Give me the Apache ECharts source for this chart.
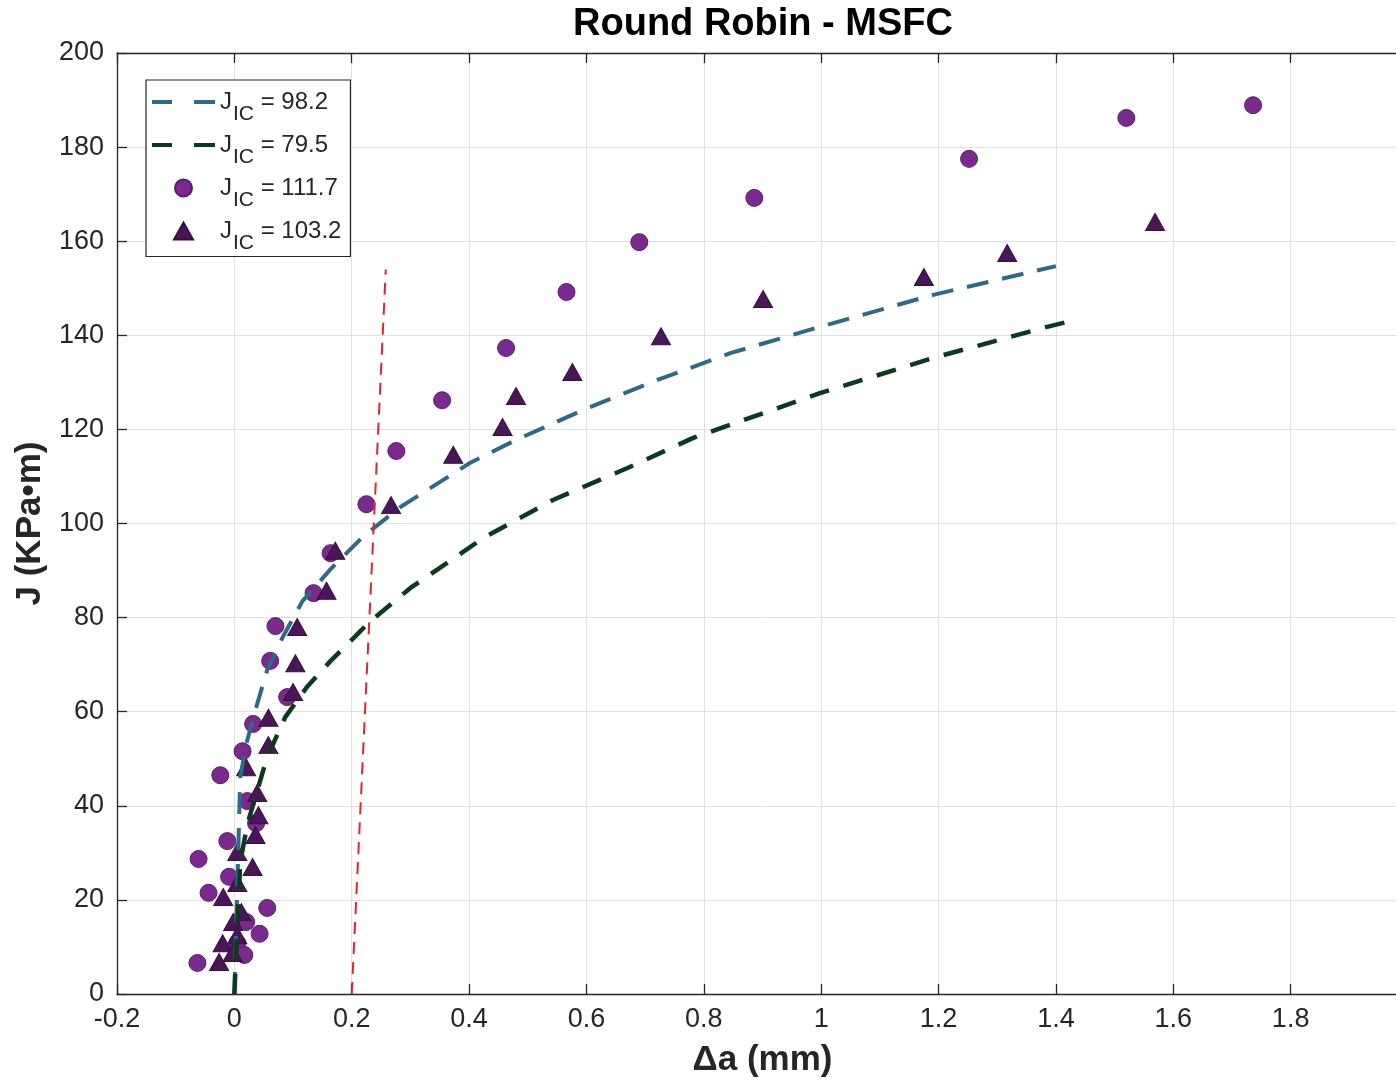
<!DOCTYPE html>
<html>
<head>
<meta charset="utf-8">
<script src="https://cdn.jsdelivr.net/npm/echarts@6/dist/echarts.min.js"></script>
<style>
html,body{margin:0;padding:0;background:#fff;overflow:hidden;}
#chart{width:1420px;height:1084px;}
</style>
</head>
<body>
<div id="chart"></div>
<script>
// ---- data ----
const circX = [1.736,1.520,1.252,0.886,0.690,0.566,0.463,0.354,0.276,0.225,0.164,0.135,0.070,0.061,0.090,0.032,0.014,-0.024,0.022,0.037,-0.012,-0.061,-0.009,-0.044,0.056,0.020,0.043,0.005,0.017,-0.063];
const circY = [188.9,186.2,177.5,169.2,159.8,149.2,137.3,126.2,115.4,104.1,93.7,85.2,78.2,70.8,63.1,57.4,51.6,46.5,41.0,36.3,32.5,28.7,24.9,21.5,18.3,15.3,12.8,10.8,8.3,6.6];
const triX = [1.569,1.317,1.175,0.901,0.727,0.576,0.480,0.457,0.373,0.267,0.172,0.157,0.107,0.104,0.100,0.058,0.058,0.020,0.039,0.041,0.036,0.005,0.031,0.005,-0.019,0.012,-0.002,0.005,-0.020,-0.003,-0.026];
const triY = [164.1,157.5,152.4,147.7,139.8,132.2,127.1,120.5,114.6,103.9,94.2,85.7,78.0,70.3,64.2,58.7,52.9,48.2,42.7,38.0,33.8,30.2,27.0,23.6,20.6,17.4,15.3,12.5,10.8,8.7,6.8];
const blueX = [0,0.010,0.020,0.036,0.056,0.083,0.116,0.164,0.220,0.283,0.402,0.479,0.601,0.721,0.845,0.998,1.191,1.400];
const blueY = [0,46,53,60.4,68.9,76.0,83.5,90.3,97.3,103.5,112.9,117.7,124.5,130.5,136.2,141.8,148.6,154.7];
const greenX = [0,0.010,0.022,0.056,0.087,0.124,0.164,0.206,0.227,0.300,0.424,0.543,0.670,0.782,0.998,1.191,1.385,1.418];
const greenY = [0,28,36,50.4,58.9,65.3,70.8,76.0,78.7,86.3,96.9,105.0,111.8,118.2,127.7,135.2,141.8,142.8];
const redX = [0.200,0.258];
const redY = [0,154];
const legendNames = ['J_IC = 98.2','J_IC = 79.5','J_IC = 111.7','J_IC = 103.2'];
const legendValues = ['98.2','79.5','111.7','103.2'];
const xTicks = {min:-0.2, max:2.0, step:0.2};
const yTicks = {min:0, max:200, step:20};

const zip = (a,b)=>a.map((v,i)=>[v,b[i]]);
const FONT = '"Liberation Sans", Arial, Helvetica, sans-serif';
const TXT = '#262626';
const DASH_ICON = 'path://M0,0 H20 V4 H0 Z M42,0 H63 V4 H42 Z';
const TRI_ICON = 'path://M0,17 L9.5,0 L19,17 Z';

const chart = echarts.init(document.getElementById('chart'), null, {renderer:'canvas'});
const option = {
  animation:false,
  backgroundColor:'#ffffff',
  textStyle:{fontFamily:FONT},
  title:{
    text:'Round Robin - MSFC',
    left:758, top:1, textAlign:'center',
    textStyle:{fontFamily:FONT,fontSize:38,fontWeight:'bold',color:'#000'}
  },
  grid:{left:117, right:12, top:53, bottom:90, containLabel:false},
  legend:{
    orient:'vertical',
    left:146, top:80,
    data:[
      {name:legendNames[0], icon:DASH_ICON},
      {name:legendNames[1], icon:DASH_ICON},
      {name:legendNames[2], icon:'circle'},
      {name:legendNames[3], icon:TRI_ICON}
    ],
    backgroundColor:'#ffffff',
    borderColor:TXT, borderWidth:1.2, borderRadius:0,
    padding:[10,9,3,6],
    itemGap:8.5,
    itemWidth:63, itemHeight:17,
    symbolKeepAspect:true,
    formatter:function(name){
      const i = legendNames.indexOf(name);
      return '{j|J}{s|IC}{t| = ' + legendValues[i] + '}';
    },
    textStyle:{
      fontFamily:FONT, color:TXT,
      rich:{
        j:{fontSize:24, fontFamily:FONT, color:TXT},
        s:{fontSize:21, fontFamily:FONT, color:TXT, padding:[24,0,0,1]},
        t:{fontSize:24, fontFamily:FONT, color:TXT}
      }
    }
  },
  xAxis:[{
    type:'value', min:xTicks.min, max:xTicks.max, interval:xTicks.step,
    position:'bottom',
    name:'Δa (mm)', nameLocation:'middle', nameGap:49,
    nameTextStyle:{fontFamily:FONT,fontSize:35,fontWeight:'bold',color:TXT},
    axisLine:{show:true,onZero:false,lineStyle:{color:TXT,width:1.3}},
    axisTick:{show:true,inside:true,length:10,lineStyle:{color:TXT,width:1.3}},
    axisLabel:{fontFamily:FONT,fontSize:27,color:TXT,margin:12,
      formatter:v=>String(Math.round(v*10)/10)},
    splitLine:{show:true,lineStyle:{color:'#e0e0e0',width:1}}
  },{
    type:'value', min:xTicks.min, max:xTicks.max, interval:xTicks.step,
    position:'top',
    axisLine:{show:true,onZero:false,lineStyle:{color:TXT,width:1.3}},
    axisTick:{show:true,inside:true,length:10,lineStyle:{color:TXT,width:1.3}},
    axisLabel:{show:false},
    splitLine:{show:false}
  }],
  yAxis:{
    type:'value', min:yTicks.min, max:yTicks.max, interval:yTicks.step,
    name:'J (KPa•m)', nameLocation:'middle', nameGap:66,
    nameTextStyle:{fontFamily:FONT,fontSize:35,fontWeight:'bold',color:TXT},
    axisLine:{show:true,onZero:false,lineStyle:{color:TXT,width:1.3}},
    axisTick:{show:true,inside:true,length:10,lineStyle:{color:TXT,width:1.3}},
    axisLabel:{fontFamily:FONT,fontSize:27,color:TXT,margin:13},
    splitLine:{show:true,lineStyle:{color:'#e0e0e0',width:1}}
  },
  series:[
    {
      name:legendNames[2], type:'scatter', symbol:'circle', symbolSize:17,
      data:zip(circX,circY),
      itemStyle:{color:'#7a2a8e', borderColor:'#5a1d6a', borderWidth:1, opacity:1},
      z:2
    },
    {
      name:legendNames[3], type:'scatter', symbol:'triangle', symbolSize:[19,17],
      data:zip(triX,triY),
      itemStyle:{color:'#4b1659', borderColor:'#35103f', borderWidth:1, opacity:1},
      z:2
    },
    {
      name:legendNames[0], type:'line', data:zip(blueX,blueY),
      showSymbol:false, symbol:'none', smooth:false,
      lineStyle:{color:'#2e6a88', width:4, type:[22,14]},
      itemStyle:{color:'#2e6a88'},
      z:3
    },
    {
      name:legendNames[1], type:'line', data:zip(greenX,greenY),
      showSymbol:false, symbol:'none', smooth:false,
      lineStyle:{color:'#0c3a1e', width:4.5, type:[20,15]},
      itemStyle:{color:'#0c3a1e'},
      z:3
    },
    {
      name:'blunting', type:'line', data:zip(redX,redY),
      showSymbol:false, symbol:'none',
      lineStyle:{color:'#e6232e', width:2, type:[12,8]},
      itemStyle:{color:'#e6232e'},
      z:4
    }
  ]
};
chart.setOption(option);
</script>
</body>
</html>
